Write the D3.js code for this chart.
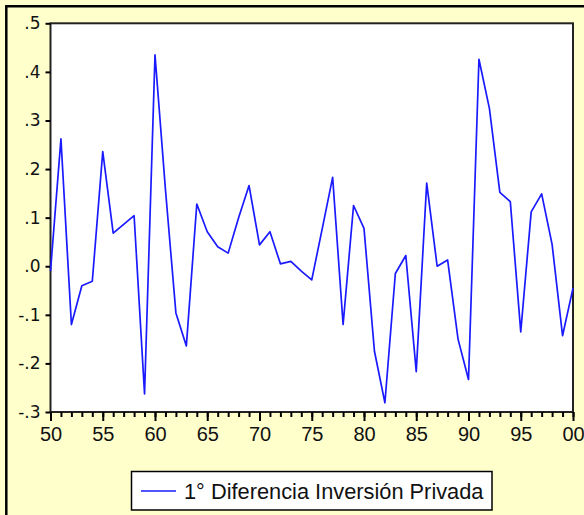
<!DOCTYPE html>
<html>
<head>
<meta charset="utf-8">
<script src="https://cdn.jsdelivr.net/npm/d3@7"></script>
<style>
  html, body { margin: 0; padding: 0; background: #ffffcc; }
  svg { display: block; }
</style>
</head>
<body>
<svg id="chart" width="584" height="515"></svg>
<script>
// Annual first difference of private investment, 1950–2000
const years = [1950,1951,1952,1953,1954,1955,1956,1957,1958,1959,
               1960,1961,1962,1963,1964,1965,1966,1967,1968,1969,
               1970,1971,1972,1973,1974,1975,1976,1977,1978,1979,
               1980,1981,1982,1983,1984,1985,1986,1987,1988,1989,
               1990,1991,1992,1993,1994,1995,1996,1997,1998,1999,2000];
const difInversion = [-0.010, 0.262,-0.120,-0.040,-0.031, 0.236, 0.068, 0.086, 0.104,-0.263,
                       0.435, 0.158,-0.096,-0.164, 0.128, 0.071, 0.040, 0.027, 0.100, 0.166,
                       0.044, 0.071, 0.005, 0.010,-0.010,-0.028, 0.077, 0.183,-0.120, 0.125,
                       0.078,-0.175,-0.281,-0.015, 0.022,-0.217, 0.171, 0.000, 0.013,-0.150,
                      -0.233, 0.426, 0.325, 0.152, 0.133,-0.135, 0.112, 0.149, 0.045,-0.143,-0.045];
const yTicks = [-0.3,-0.2,-0.1,0.0,0.1,0.2,0.3,0.4,0.5];
const yTickLabels = ["-.3","-.2","-.1",".0",".1",".2",".3",".4",".5"];
const xMajorTicks = [1950,1955,1960,1965,1970,1975,1980,1985,1990,1995,2000];
const xTickLabels = ["50","55","60","65","70","75","80","85","90","95","00"];
const seriesName = "1° Diferencia Inversión Privada";

const svg = d3.select("#chart");
const W = 584, H = 515;
const plot = { left: 50.5, right: 573, top: 23.3, bottom: 412 };

// page background and the frame along the top and left edges
svg.append("rect").attr("width", W).attr("height", H).attr("fill", "#ffffcc");
svg.append("path")
  .attr("d", `M6.3,${H} V6.3 H${W}`)
  .attr("fill", "none").attr("stroke", "#000").attr("stroke-width", 2.5);

const x = d3.scaleLinear().domain([1950, 2000]).range([plot.left, plot.right]);
const y = d3.scaleLinear().domain([-0.3, 0.5]).range([plot.bottom, plot.top]);

// plot area
svg.append("rect")
  .attr("x", plot.left).attr("y", plot.top)
  .attr("width", plot.right - plot.left).attr("height", plot.bottom - plot.top)
  .attr("fill", "#fff").attr("stroke", "#222").attr("stroke-width", 2);

// y axis
const yAxis = svg.append("g")
  .attr("transform", `translate(${plot.left},0)`)
  .call(d3.axisLeft(y).tickValues(yTicks)
    .tickFormat((d, i) => yTickLabels[i]).tickSize(5).tickPadding(5));
yAxis.select(".domain").remove();
yAxis.selectAll(".tick line").attr("stroke", "#000").attr("stroke-width", 2);
yAxis.selectAll(".tick text")
  .attr("font-family", "DejaVu Sans, sans-serif").attr("font-size", 17)
  .attr("fill", "#111");

// x axis: minor tick every year, longer tick with label every five years
const xMinor = svg.append("g")
  .attr("transform", `translate(0,${plot.bottom})`)
  .call(d3.axisBottom(x).tickValues(years).tickFormat("").tickSize(5));
xMinor.select(".domain").remove();
xMinor.selectAll(".tick line").attr("stroke", "#000").attr("stroke-width", 2);

const xMajor = svg.append("g")
  .attr("transform", `translate(0,${plot.bottom})`)
  .call(d3.axisBottom(x).tickValues(xMajorTicks)
    .tickFormat((d, i) => xTickLabels[i]).tickSize(9).tickPadding(6));
xMajor.select(".domain").remove();
xMajor.selectAll(".tick line").attr("stroke", "#000").attr("stroke-width", 2);
xMajor.selectAll(".tick text")
  .attr("font-family", "Liberation Sans, Arial, sans-serif").attr("font-size", 20)
  .attr("fill", "#111");

// series line
const line = d3.line().x((d, i) => x(years[i])).y(d => y(d));
svg.append("path")
  .datum(difInversion)
  .attr("d", line)
  .attr("fill", "none")
  .attr("stroke", "#1a1aff")
  .attr("stroke-width", 1.7)
  .attr("stroke-linejoin", "round");

// legend
const lg = svg.append("g");
lg.append("rect")
  .attr("x", 131.5).attr("y", 471.5).attr("width", 360.5).attr("height", 38.5)
  .attr("fill", "#fff").attr("stroke", "#000").attr("stroke-width", 1.5);
lg.append("line")
  .attr("x1", 141).attr("x2", 176).attr("y1", 491).attr("y2", 491)
  .attr("stroke", "#1a1aff").attr("stroke-width", 1.7);
lg.append("text")
  .attr("x", 184).attr("y", 491).attr("dy", "0.36em")
  .attr("font-family", "Liberation Sans, Arial, sans-serif").attr("font-size", 21.8)
  .attr("fill", "#111")
  .text(seriesName);
</script>
</body>
</html>
